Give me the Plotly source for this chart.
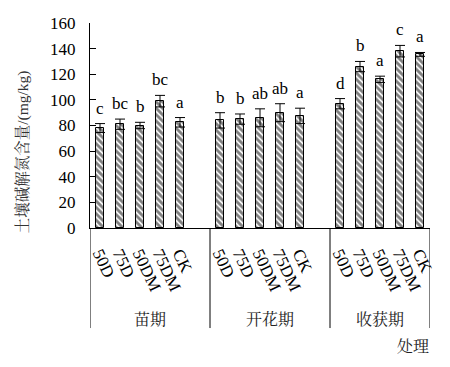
import plotly.graph_objects as go

stages = ["苗期", "开花期", "收获期"]
treatments = ["50D", "75D", "50DM", "75DM", "CK"]
values = [
    [78, 81, 80, 99, 82.5],
    [84, 85, 86, 90, 87.5],
    [97, 126, 116, 138, 135.5],
]
errors = [
    [3.5, 4, 2.5, 4.5, 3.7],
    [6, 4, 7, 7, 6],
    [4, 4, 2.5, 4.5, 1.5],
]
letters = [
    ["c", "bc", "b", "bc", "a"],
    ["b", "b", "ab", "ab", "a"],
    ["d", "b", "a", "c", "a"],
]
x_title = "处理"
y_title = "土壤碱解氮含量/(mg/kg)"

FONT = "Liberation Serif"
CJK = "Noto Serif CJK SC, Noto Sans CJK SC"
slot = len(treatments) + 1

xs, ys, es, labs, tick_text = [], [], [], [], []
for g in range(len(stages)):
    for i, t in enumerate(treatments):
        xs.append(g * slot + i)
        ys.append(values[g][i])
        es.append(errors[g][i])
        labs.append(letters[g][i])
        tick_text.append(t)

fig = go.Figure()
fig.add_trace(go.Bar(
    x=xs, y=ys, width=0.42,
    marker=dict(color="white", line=dict(color="black", width=1),
                pattern=dict(shape="\\", fgcolor="black", bgcolor="white", size=4.5, solidity=0.62)),
    error_y=dict(type="data", array=es, visible=True, color="black", thickness=1, width=5),
    showlegend=False,
))

for x, y, e, l in zip(xs, ys, es, labs):
    fig.add_annotation(x=x, y=y + e, text=l, showarrow=False, yanchor="bottom", yshift=4,
                       font=dict(family=FONT, size=17, color="black"))

x_min = -0.5
x_max = (len(stages) - 1) * slot + len(treatments) - 0.5
bounds = [x_min, slot - 0.5, 2 * slot - 0.5, x_max]
for b in bounds:
    fig.add_shape(type="line", xref="x", yref="paper", x0=b, x1=b, y0=0, y1=-0.488,
                  line=dict(color="black", width=1))

for g, s in enumerate(stages):
    left = bounds[g]
    right = bounds[g + 1]
    fig.add_annotation(x=(left + right) / 2, y=-0.44, xref="x", yref="paper", text=s, showarrow=False,
                       font=dict(family=CJK, size=16, color="#222"), yanchor="middle")

fig.add_annotation(x=(413 - 90) / 340, y=-0.572, xref="paper", yref="paper", text=x_title,
                   showarrow=False, font=dict(family=CJK, size=16, color="#222"),
                   xanchor="center", yanchor="middle")
fig.add_annotation(x=(22 - 90) / 340, y=(227.7 - 152) / 205, xref="paper", yref="paper", text=y_title,
                   showarrow=False, textangle=-90, font=dict(family=FONT + ", " + CJK, size=15.5, color="#333"),
                   xanchor="center", yanchor="middle")

fig.update_layout(
    width=450, height=367,
    margin=dict(l=90, r=20, t=23, b=139),
    plot_bgcolor="white", paper_bgcolor="white",
    font=dict(family=FONT, size=16, color="black"),
    bargap=0,
    xaxis=dict(range=[x_min, x_max], tickmode="array", tickvals=xs, ticktext=tick_text,
               tickangle=65, ticks="", showline=True, linecolor="black", linewidth=1,
               showgrid=False, zeroline=False, ticklabelstandoff=8,
               tickfont=dict(family=FONT, size=17, color="black")),
    yaxis=dict(range=[0, 160], tickmode="linear", tick0=0, dtick=20, ticks="inside", ticklen=6,
               tickcolor="black", showline=True, linecolor="black", linewidth=1, showgrid=False,
               zeroline=False, ticklabelstandoff=10,
               tickfont=dict(family=FONT, size=17, color="black")),
)

fig.write_html("out.html")
